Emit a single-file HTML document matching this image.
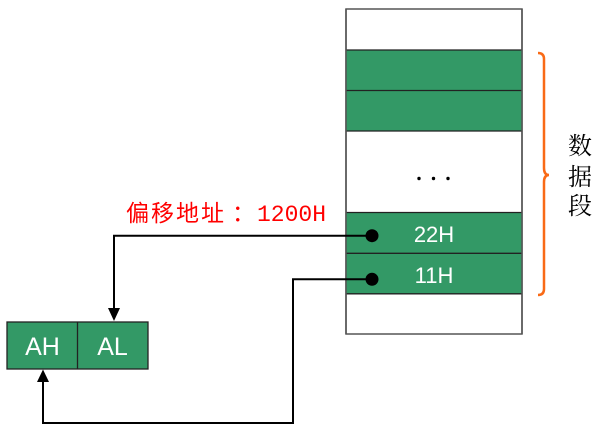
<!DOCTYPE html>
<html><head><meta charset="utf-8"><style>
html,body{margin:0;padding:0;background:#fff;}
svg{display:block;}
</style></head><body>
<svg width="600" height="433" viewBox="0 0 600 433" xmlns="http://www.w3.org/2000/svg">
<!-- memory column -->
<rect x="346" y="9" width="176" height="325" fill="#fff" stroke="#555" stroke-width="1.5"/>
<rect x="346" y="50" width="176" height="40.5" fill="#339966"/>
<rect x="346" y="90.5" width="176" height="40.5" fill="#339966"/>
<rect x="346" y="212.5" width="176" height="40.8" fill="#339966"/>
<rect x="346" y="253.3" width="176" height="40.5" fill="#339966"/>
<g stroke="#222" stroke-width="1.3">
<line x1="346" y1="50" x2="522" y2="50"/>
<line x1="346" y1="90.5" x2="522" y2="90.5"/>
<line x1="346" y1="131" x2="522" y2="131"/>
<line x1="346" y1="212.5" x2="522" y2="212.5"/>
<line x1="346" y1="253.3" x2="522" y2="253.3"/>
<line x1="346" y1="293.8" x2="522" y2="293.8"/>
</g>
<line x1="346" y1="9" x2="346" y2="334" stroke="#555" stroke-width="1.5"/>
<line x1="522" y1="9" x2="522" y2="334" stroke="#555" stroke-width="1.5"/>
<circle cx="419" cy="178.5" r="1.7" fill="#000"/>
<circle cx="433.5" cy="178.5" r="1.7" fill="#000"/>
<circle cx="448" cy="178.5" r="1.7" fill="#000"/>
<text x="434" y="242" font-family="Liberation Sans, sans-serif" font-size="22" fill="#fff" text-anchor="middle">22H</text>
<text x="434" y="283" font-family="Liberation Sans, sans-serif" font-size="22" fill="#fff" text-anchor="middle">11H</text>
<!-- brace -->
<path d="M538,53 Q544,53 544,59 L544,168 Q544,175 549,175 Q544,175 544,182 L544,289 Q544,295 538,295" fill="none" stroke="#F96A16" stroke-width="2.5"/>
<text font-family="'Noto Serif CJK SC', serif" font-size="24" fill="#000" text-anchor="middle">
<tspan x="580" y="154">数</tspan><tspan x="580" y="185">据</tspan><tspan x="580" y="214">段</tspan>
</text>
<!-- red label -->
<text y="221" font-family="'Noto Sans CJK SC', sans-serif" font-size="23" fill="#ff0000"><tspan x="126">偏</tspan><tspan x="151">移</tspan><tspan x="176">地</tspan><tspan x="201">址</tspan><tspan x="232">：</tspan></text>
<text x="257" y="221" font-family="Liberation Mono, monospace" font-size="23" fill="#ff0000">1200H</text>
<!-- AH AL box -->
<rect x="7" y="322" width="141" height="47" fill="#339966" stroke="#222" stroke-width="1.3"/>
<line x1="77.5" y1="322" x2="77.5" y2="369" stroke="#222" stroke-width="1.3"/>
<text x="42.5" y="355" font-family="Liberation Sans, sans-serif" font-size="25" fill="#fff" text-anchor="middle">AH</text>
<text x="112.5" y="355" font-family="Liberation Sans, sans-serif" font-size="25" fill="#fff" text-anchor="middle">AL</text>
<!-- connectors -->
<polyline points="372,235.7 114,235.7 114,309" fill="none" stroke="#000" stroke-width="2"/>
<polygon points="108,308 120,308 114,321" fill="#000"/>
<polyline points="372,279.3 293,279.3 293,423 43,423 43,381" fill="none" stroke="#000" stroke-width="2"/>
<polygon points="37,382 49,382 43,369.5" fill="#000"/>
<circle cx="372" cy="235.7" r="6.5" fill="#000"/>
<circle cx="372" cy="279.3" r="6.5" fill="#000"/>
</svg>
</body></html>
